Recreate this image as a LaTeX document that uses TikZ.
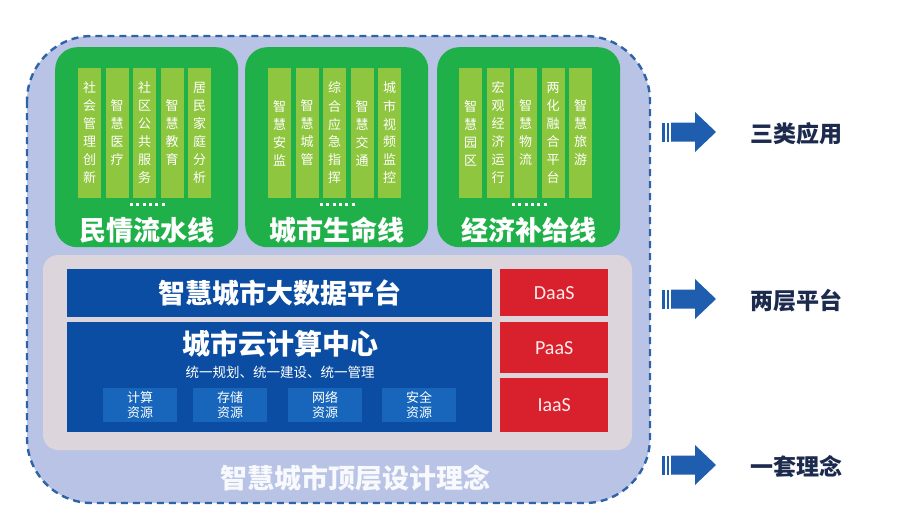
\documentclass[tikz,border=0pt]{standalone}
\usepackage{fontspec}
\setmainfont{Noto Sans CJK SC}
\newfontfamily\latinfont{Carlito}
\definecolor{outerfill}{HTML}{B8C3E6}
\definecolor{outerdash}{HTML}{2E63A6}
\definecolor{appgreen}{HTML}{20B04A}
\definecolor{stripgreen}{HTML}{8FC63F}
\definecolor{platgray}{HTML}{DCD6DC}
\definecolor{platblue}{HTML}{0B4DA2}
\definecolor{resblue}{HTML}{1766BC}
\definecolor{saasred}{HTML}{D9202D}
\definecolor{arrowblue}{HTML}{1F5EAF}
\definecolor{labelnavy}{HTML}{1C2A4E}
\tikzset{
  greenbox/.style={fill=appgreen, rounded corners=22, anchor=north west, minimum width=183, minimum height=200, inner sep=0},
  strip/.style={fill=stripgreen, minimum width=23, minimum height=130, inner sep=0, align=center,
    text=white, font=\fontsize{13}{18}\selectfont},
  grouptitle/.style={text=white, font=\fontsize{27}{30}\selectfont\bfseries},
  bluebar/.style={fill=platblue, anchor=north west, inner sep=0, text=white},
  resbox/.style={fill=resblue, minimum width=74, minimum height=34, inner sep=0, align=center,
    text=white, font=\fontsize{13}{15}\selectfont},
  redbox/.style={fill=saasred, anchor=north west, minimum width=108, inner sep=0, text=white!92!red,
    font=\latinfont\fontsize{20}{22}\selectfont},
  sidelabel/.style={text=labelnavy, font=\fontsize{23}{25}\selectfont\bfseries}
}
\begin{document}
\begin{tikzpicture}[x=1pt,y=-1pt]
\useasboundingbox (0,0) rectangle (898,522);
% outer frame
\draw[fill=outerfill, draw=outerdash, line width=2.4, dash pattern=on 7 off 5, rounded corners=65] (27,36) rectangle (650,503);

% three application groups
\node[greenbox] (g1) at (55,47) {};
\node[greenbox] (g2) at (245,47) {};
\node[greenbox] (g3) at (437,47) {};
\foreach \j/\s in {1/{社\\会\\管\\理\\创\\新},2/{智\\慧\\医\\疗},3/{社\\区\\公\\共\\服\\务},4/{智\\慧\\教\\育},5/{居\\民\\家\\庭\\分\\析}}
  \node[strip] (sa\j) at (62+27.5*\j,133) {\s};
\foreach \j/\s in {1/{智\\慧\\安\\监},2/{智\\慧\\城\\管},3/{综\\合\\应\\急\\指\\挥},4/{智\\慧\\交\\通},5/{城\\市\\视\\频\\监\\控}}
  \node[strip] (sb\j) at (252+27.5*\j,133) {\s};
\foreach \j/\s in {1/{智\\慧\\园\\区},2/{宏\\观\\经\\济\\运\\行},3/{智\\慧\\物\\流},4/{两\\化\\融\\合\\平\\台},5/{智\\慧\\旅\\游}}
  \node[strip] (sc\j) at (443+27.5*\j,133) {\s};
\foreach \i in {1,2,3}
  \draw[white, line width=2.6, dash pattern=on 3 off 3.4] ([xshift=-17,yshift=43]g\i.south) -- ([xshift=18,yshift=43]g\i.south);
\node[grouptitle] (t1) at ([yshift=17]g1.south) {民情流水线};
\node[grouptitle] (t2) at ([yshift=17]g2.south) {城市生命线};
\node[grouptitle] (t3) at ([yshift=17]g3.south) {经济补给线};

% two-layer platform
\fill[platgray, rounded corners=15] (43,255) rectangle (632,450);
\node[bluebar, minimum width=425, minimum height=48, font=\fontsize{27}{30}\selectfont\bfseries] (bd) at (67,269) {智慧城市大数据平台};
\node[bluebar, minimum width=425, minimum height=110] (cc) at (67,322) {};
\node[text=white, font=\fontsize{28}{30}\selectfont\bfseries] (cct) at (280,344) {城市云计算中心};
\node[text=white, font=\fontsize{13.5}{15}\selectfont] (ccs) at (280,372) {统一规划、统一建设、统一管理};
\node[resbox] (r1) at (140,405) {计算\\资源};
\node[resbox] (r2) at (230,405) {存储\\资源};
\node[resbox] (r3) at (325,405) {网络\\资源};
\node[resbox] (r4) at (419,405) {安全\\资源};
\node[redbox, minimum height=47] (daas) at (500,269) {DaaS};
\node[redbox, minimum height=51] (paas) at (500,322) {PaaS};
\node[redbox, minimum height=54] (iaas) at (500,378) {IaaS};
\node[text=white!90!outerfill, font=\fontsize{27}{30}\selectfont\bfseries] (base) at (355,478) {智慧城市顶层设计理念};

% side arrows
\foreach \k/\y/\s in {1/132/三类应用,2/299/两层平台,3/465/一套理念}{
  \coordinate (a\k) at (662,\y);
  \fill[arrowblue] (a\k) ++(0,-9.5) rectangle ++(2.5,19);
  \fill[arrowblue] (a\k) ++(4.5,-9.5) rectangle ++(2.5,19);
  \fill[arrowblue] (a\k) ++(9,-9.5) -- ++(24,0) -- ++(0,-10.5) -- ++(21,20) -- ++(-21,20) -- ++(0,-10.5) -- ++(-24,0) -- cycle;
  \node[sidelabel] (lab\k) at (796,\y+2) {\s};
}
\end{tikzpicture}
\end{document}
